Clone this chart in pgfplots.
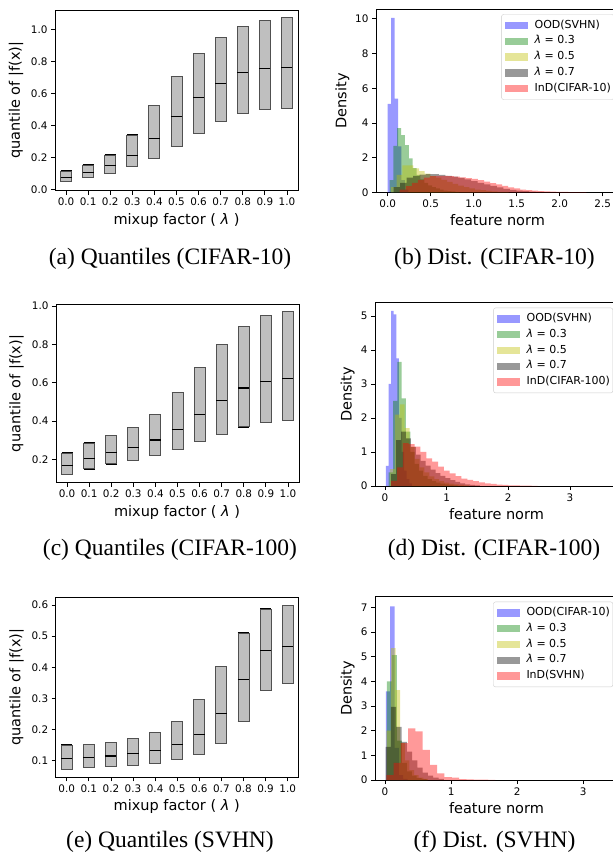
\documentclass[border=0pt]{standalone}
\usepackage{pgfplots}
\pgfplotsset{compat=1.18}
\usepgfplotslibrary{statistics}
\usepackage{fontspec}
\setmainfont{Liberation Serif}
\newfontfamily\dv{DejaVu Sans}

\definecolor{boxgray}{RGB}{191,191,191}
\definecolor{boxedge}{RGB}{80,80,80}
\definecolor{myg}{RGB}{0,128,0}
\definecolor{myy}{RGB}{191,191,0}
\definecolor{legframe}{RGB}{204,204,204}

\newcommand\tickf{\dv\fontsize{10.4}{12}\selectfont}
\newcommand\labf{\dv\fontsize{14.5}{17}\selectfont}
\newcommand\legf{\dv\fontsize{11}{12}\selectfont}
\newcommand\capf{\fontsize{23.5}{28}\selectfont}

\pgfplotsset{
  base/.style={scale only axis, width=243pt, axis line style={line width=0.8pt},
    tick pos=left, tick align=outside, major tick length=4pt,
    every tick/.style={black, line width=0.8pt},
    tick label style={font=\tickf},
    /pgf/number format/assume math mode=true},
  qbox/.style={base, height=180.5pt, xmin=-0.5, xmax=10.5, xtick={0,...,10},
    xticklabels={0.0,0.1,0.2,0.3,0.4,0.5,0.6,0.7,0.8,0.9,1.0},
    yticklabel style={/pgf/number format/.cd, fixed, fixed zerofill, precision=1},
    boxplot/draw direction=y,
    boxplot/box extend=0.5, boxplot/whisker extend=0.5,
    boxplot/every median/.style={black, line width=1.1pt},
    boxplot/every whisker/.style={black, line width=1.3pt}},
  hax/.style={base, height=183pt, ymin=0, legend cell align=left,
    legend style={at={(1,1)}, anchor=north east, xshift=-5pt, yshift=-5pt,
      draw=legframe, fill=white, fill opacity=0.8, text opacity=1,
      rounded corners=2pt, font=\legf, row sep=5pt, column sep=7pt,
      inner xsep=3pt, inner ysep=5.5pt,
      nodes={inner sep=0pt, text height=8.1pt, text depth=2.7pt}}},
  hbar/.style={ybar interval, fill opacity=0.4, draw=none,
    legend image code/.code={\fill[##1, sharp corners] (0pt,-3.7pt) rectangle (23pt,3.7pt);}},
}
\newcommand{\bx}[4]{\addplot[fill=boxgray, draw=boxedge, line width=0.9pt,
  boxplot prepared={draw position=#1, lower whisker=#2, lower quartile=#2,
  median=#3, upper quartile=#4, upper whisker=#4}] coordinates {};}

\begin{document}
\begin{tikzpicture}
\useasboundingbox (0pt,0pt) rectangle (613pt,-854pt);
\clip (0pt,0pt) rectangle (613pt,-854pt);

% (a) quantiles CIFAR-10
\begin{axis}[qbox, at={(55pt,-190.7pt)}, anchor=south west,
  ymin=-0.008, ymax=1.121, ytick={0,0.2,0.4,0.6,0.8,1.0}]
\bx{0}{0.048}{0.073}{0.115}
\bx{1}{0.073}{0.104}{0.152}
\bx{2}{0.100}{0.148}{0.215}
\bx{3}{0.142}{0.212}{0.340}
\bx{4}{0.196}{0.319}{0.527}
\bx{5}{0.271}{0.454}{0.708}
\bx{6}{0.350}{0.575}{0.850}
\bx{7}{0.425}{0.665}{0.948}
\bx{8}{0.473}{0.729}{1.019}
\bx{9}{0.498}{0.756}{1.054}
\bx{10}{0.504}{0.765}{1.073}
\end{axis}

% (c) quantiles CIFAR-100
\begin{axis}[qbox, at={(56pt,-482.7pt)}, anchor=south west, height=178.4pt,
  ymin=0.078, ymax=1.009, ytick={0.2,0.4,0.6,0.8,1.0}]
\bx{0}{0.122}{0.170}{0.233}
\bx{1}{0.150}{0.205}{0.285}
\bx{2}{0.176}{0.237}{0.323}
\bx{3}{0.195}{0.261}{0.367}
\bx{4}{0.219}{0.301}{0.433}
\bx{5}{0.252}{0.358}{0.548}
\bx{6}{0.292}{0.433}{0.677}
\bx{7}{0.330}{0.508}{0.798}
\bx{8}{0.369}{0.572}{0.895}
\bx{9}{0.395}{0.607}{0.950}
\bx{10}{0.405}{0.623}{0.972}
\end{axis}

% (e) quantiles SVHN
\begin{axis}[qbox, at={(55.7pt,-777.3pt)}, anchor=south west, height=180pt,
  ymin=0.0465, ymax=0.6246, ytick={0.1,0.2,0.3,0.4,0.5,0.6}]
\bx{0}{0.073}{0.1075}{0.150}
\bx{1}{0.0775}{0.110}{0.152}
\bx{2}{0.081}{0.115}{0.158}
\bx{3}{0.085}{0.1225}{0.171}
\bx{4}{0.0925}{0.133}{0.189}
\bx{5}{0.104}{0.152}{0.225}
\bx{6}{0.121}{0.1846}{0.296}
\bx{7}{0.1546}{0.250}{0.403}
\bx{8}{0.225}{0.362}{0.510}
\bx{9}{0.327}{0.453}{0.587}
\bx{10}{0.348}{0.467}{0.599}
\end{axis}

% (b) distribution CIFAR-10
\begin{axis}[hax, at={(376pt,-192.3pt)}, anchor=south west,
  xmin=-0.136, xmax=2.69, ymax=10.55, ytick={0,2,4,6,8,10},
  xtick={0,0.5,1,1.5,2,2.5},
  xticklabel style={/pgf/number format/.cd, fixed, fixed zerofill, precision=1}]
\addplot[hbar, fill=blue] coordinates {(0,5.1) (0.04,10.05) (0.08,5.4) (0.12,2.65) (0.16,0.7) (0.2,0.15) (0.24,0)};
\addplot[hbar, fill=myg] coordinates {(0.021,0.7) (0.066,2.67) (0.111,3.7) (0.156,3.3) (0.201,2.72) (0.246,1.95) (0.291,1.4) (0.336,1.0) (0.381,0.75) (0.426,0.55) (0.471,0.4) (0.516,0.3) (0.561,0.22) (0.606,0.16) (0.651,0.1) (0.696,0.07) (0.741,0.05) (0.786,0.03) (0.831,0)};
\addplot[hbar, fill=myy] coordinates {(0.04,0.3) (0.105,1.0) (0.17,1.55) (0.235,1.55) (0.30,1.38) (0.365,1.22) (0.43,1.08) (0.495,0.95) (0.56,0.85) (0.625,0.72) (0.69,0.6) (0.755,0.48) (0.82,0.38) (0.885,0.3) (0.95,0.22) (1.015,0.16) (1.08,0.12) (1.145,0.08) (1.21,0.05) (1.275,0.03) (1.34,0.02) (1.405,0)};
\addplot[hbar, fill=black] coordinates {(0.07,0.3) (0.145,0.55) (0.22,0.85) (0.295,0.95) (0.37,1.02) (0.445,1.05) (0.52,1.05) (0.595,1.0) (0.67,0.95) (0.745,0.9) (0.82,0.83) (0.895,0.75) (0.97,0.65) (1.045,0.55) (1.12,0.45) (1.195,0.37) (1.27,0.28) (1.345,0.2) (1.42,0.14) (1.495,0.1) (1.57,0.07) (1.645,0.04) (1.72,0.02) (1.795,0)};
\addplot[hbar, fill=red] coordinates {(0.14,0.15) (0.21,0.35) (0.28,0.55) (0.35,0.72) (0.42,0.85) (0.49,0.93) (0.56,0.95) (0.63,0.95) (0.70,0.93) (0.77,0.9) (0.84,0.86) (0.91,0.82) (0.98,0.78) (1.05,0.7) (1.12,0.62) (1.19,0.53) (1.26,0.45) (1.33,0.37) (1.40,0.29) (1.47,0.22) (1.54,0.16) (1.61,0.12) (1.68,0.09) (1.75,0.07) (1.82,0.05) (1.89,0.035) (1.96,0.025) (2.03,0.018) (2.10,0.012) (2.17,0.008) (2.24,0.005) (2.31,0)};
\legend{OOD(SVHN),{{\itshape λ} = 0.3},{{\itshape λ} = 0.5},{{\itshape λ} = 0.7},InD(CIFAR-10)}
\end{axis}

% (d) distribution CIFAR-100
\begin{axis}[hax, at={(375pt,-486pt)}, anchor=south west, height=183.3pt,
  xmin=-0.162, xmax=3.78, ymax=5.39, ytick={0,1,2,3,4,5}, xtick={0,1,2,3}]
\addplot[hbar, fill=blue] coordinates {(0.016,0.59) (0.058,3.0) (0.100,5.15) (0.142,5.05) (0.184,3.75) (0.226,2.0) (0.268,1.0) (0.310,0.45) (0.352,0.2) (0.394,0.08) (0.436,0)};
\addplot[hbar, fill=myg] coordinates {(0.06,0.4) (0.13,2.5) (0.20,3.65) (0.27,2.58) (0.34,1.6) (0.41,1.0) (0.48,0.65) (0.55,0.45) (0.62,0.3) (0.69,0.2) (0.76,0.14) (0.83,0.1) (0.90,0.07) (0.97,0.05) (1.04,0.03) (1.11,0.02) (1.18,0)};
\addplot[hbar, fill=myy] coordinates {(0.08,0.5) (0.16,2.1) (0.24,2.4) (0.32,1.7) (0.40,1.15) (0.48,0.8) (0.56,0.55) (0.64,0.4) (0.72,0.28) (0.80,0.2) (0.88,0.14) (0.96,0.1) (1.04,0.07) (1.12,0.05) (1.20,0.03) (1.28,0.02) (1.36,0)};
\addplot[hbar, fill=black] coordinates {(0.10,0.35) (0.18,1.35) (0.26,1.6) (0.34,1.4) (0.42,1.15) (0.50,0.92) (0.58,0.74) (0.66,0.6) (0.74,0.48) (0.82,0.38) (0.90,0.3) (0.98,0.23) (1.06,0.17) (1.14,0.12) (1.22,0.08) (1.30,0.05) (1.38,0.03) (1.46,0.02) (1.54,0)};
\addplot[hbar, fill=red] coordinates {(0.100,0.15) (0.195,0.55) (0.290,1.26) (0.385,1.23) (0.480,1.16) (0.575,1.0) (0.670,0.81) (0.765,0.72) (0.860,0.57) (0.955,0.45) (1.050,0.37) (1.145,0.29) (1.240,0.22) (1.335,0.18) (1.430,0.14) (1.525,0.11) (1.620,0.08) (1.715,0.06) (1.810,0.04) (1.905,0.03) (2.000,0.02) (2.095,0.015) (2.190,0.01) (2.285,0.008) (2.380,0.005) (2.475,0)};
\legend{OOD(SVHN),{{\itshape λ} = 0.3},{{\itshape λ} = 0.5},{{\itshape λ} = 0.7},InD(CIFAR-100)}
\end{axis}

% (f) distribution SVHN
\begin{axis}[hax, at={(375pt,-780pt)}, anchor=south west, height=183.3pt,
  xmin=-0.151, xmax=3.525, ymax=7.44, ytick={0,1,2,3,4,5,6,7}, xtick={0,1,2,3}]
\addplot[hbar, fill=blue] coordinates {(0.012,3.6) (0.078,7.05) (0.144,1.3) (0.21,0.2) (0.276,0.05) (0.342,0)};
\addplot[hbar, fill=myg] coordinates {(0.03,4.0) (0.105,5.07) (0.18,1.6) (0.255,0.7) (0.33,0.35) (0.405,0.18) (0.48,0.08) (0.555,0.04) (0.63,0)};
\addplot[hbar, fill=myy] coordinates {(0.02,2.0) (0.09,5.35) (0.16,3.65) (0.23,1.5) (0.30,0.8) (0.37,0.4) (0.44,0.2) (0.51,0.1) (0.58,0.05) (0.65,0)};
\addplot[hbar, fill=black] coordinates {(0.01,1.35) (0.09,2.97) (0.17,2.16) (0.25,1.55) (0.33,1.15) (0.41,0.8) (0.49,0.5) (0.57,0.3) (0.65,0.18) (0.73,0.1) (0.81,0.05) (0.89,0)};
\addplot[hbar, fill=red] coordinates {(0.02,0.2) (0.13,0.7) (0.24,1.5) (0.35,2.1) (0.46,1.97) (0.57,1.22) (0.68,0.61) (0.79,0.27) (0.90,0.12) (1.01,0.1) (1.12,0.04) (1.23,0.03) (1.34,0.02) (1.45,0.02) (1.56,0.01) (1.67,0)};
\legend{OOD(CIFAR-10),{{\itshape λ} = 0.3},{{\itshape λ} = 0.5},{{\itshape λ} = 0.7},InD(SVHN)}
\end{axis}

% axis labels
\node[font=\labf, rotate=90] at (16pt,-100.4pt) {quantile of |f(x)|};
\node[font=\labf, rotate=90] at (16.5pt,-393.5pt) {quantile of |f(x)|};
\node[font=\labf, rotate=90] at (16.5pt,-687.3pt) {quantile of |f(x)|};
\node[font=\labf, anchor=base] at (176.5pt,-224pt) {mixup factor ( {\itshape λ} )};
\node[font=\labf, anchor=base] at (177pt,-516pt) {mixup factor ( {\itshape λ} )};
\node[font=\labf, anchor=base] at (176.7pt,-810.6pt) {mixup factor ( {\itshape λ} )};
\node[font=\labf, rotate=90] at (342.3pt,-100.8pt) {Density};
\node[font=\labf, rotate=90] at (347.7pt,-394.3pt) {Density};
\node[font=\labf, rotate=90] at (347.7pt,-688.3pt) {Density};
\node[font=\labf, anchor=base] at (497.5pt,-225pt) {feature norm};
\node[font=\labf, anchor=base] at (496.5pt,-519.3pt) {feature norm};
\node[font=\labf, anchor=base] at (496.5pt,-813pt) {feature norm};

% captions
\node[font=\capf, anchor=base] at (170pt,-264pt) {(a) Quantiles (CIFAR-10)};
\node[font=\capf, anchor=base] at (494.5pt,-264pt) {(b) Dist. (CIFAR-10)};
\node[font=\capf, anchor=base] at (170pt,-555.5pt) {(c) Quantiles (CIFAR-100)};
\node[font=\capf, anchor=base] at (494pt,-555.5pt) {(d) Dist. (CIFAR-100)};
\node[font=\capf, anchor=base] at (170pt,-847pt) {(e) Quantiles (SVHN)};
\node[font=\capf, anchor=base] at (494.5pt,-847pt) {(f) Dist. (SVHN)};
\end{tikzpicture}
\end{document}
